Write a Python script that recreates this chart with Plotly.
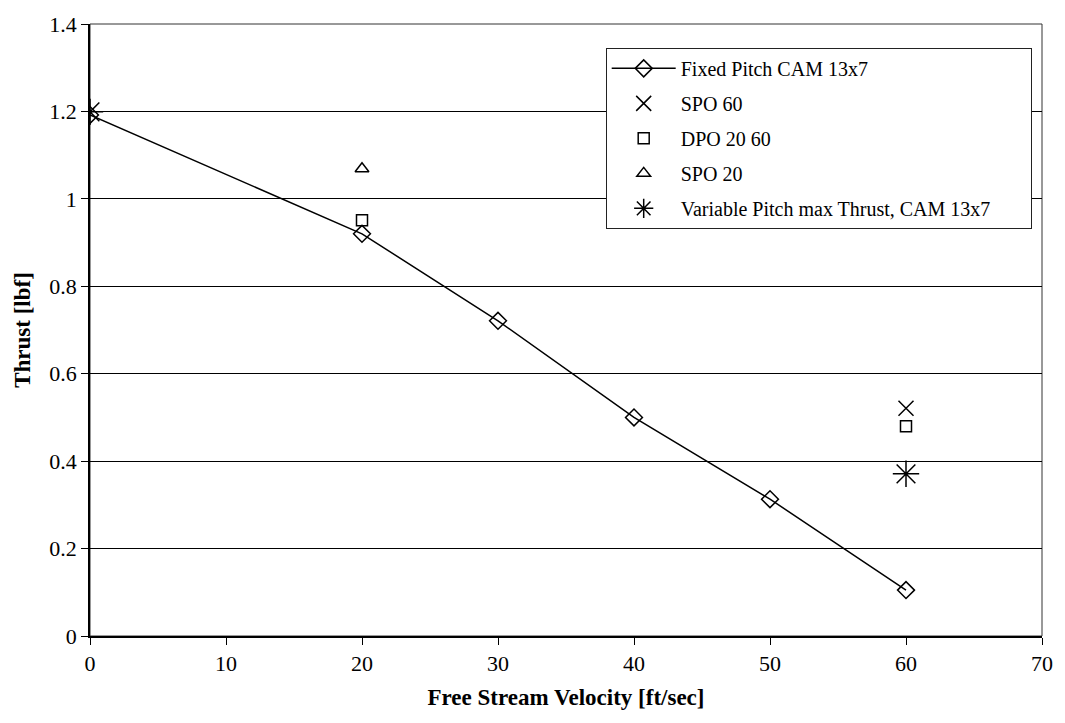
import plotly.graph_objects as go

# Data
fixed_x = [0, 20, 30, 40, 50, 60]
fixed_y = [1.192, 0.92, 0.721, 0.50, 0.313, 0.105]
spo60_x = [60]
spo60_y = [0.521]
dpo_x = [20, 60]
dpo_y = [0.951, 0.48]
spo20_x = [20]
spo20_y = [1.069]
var_x = [0, 60]
var_y = [1.199, 0.371]

x_ticks = [0, 10, 20, 30, 40, 50, 60, 70]
y_ticks = [0, 0.2, 0.4, 0.6, 0.8, 1.0, 1.2, 1.4]
y_ticklabels = ["0", "0.2", "0.4", "0.6", "0.8", "1", "1.2", "1.4"]

FONT = "Liberation Serif, Times New Roman, serif"
PAD = "\u00a0" * 7

fig = go.Figure()
fig.add_trace(go.Scatter(x=fixed_x, y=fixed_y, mode="lines+markers", name="Fixed Pitch CAM 13x7",
                         legendgroup="a",
                         line=dict(color="black", width=1.5),
                         marker=dict(symbol="diamond-open", size=13, color="black", line=dict(width=1.5))))
fig.add_trace(go.Scatter(x=spo60_x, y=spo60_y, mode="markers", name="SPO 60", legendgroup="b",
                         marker=dict(symbol="x-thin-open", size=15, color="black", line=dict(width=1.5, color="black"))))
fig.add_trace(go.Scatter(x=dpo_x, y=dpo_y, mode="markers", name="DPO 20 60", legendgroup="c",
                         marker=dict(symbol="square-open", size=11, color="black", line=dict(width=1.5))))
fig.add_trace(go.Scatter(x=spo20_x, y=spo20_y, mode="markers", name="SPO 20", legendgroup="d",
                         marker=dict(symbol="triangle-up-open", size=12, color="black", line=dict(width=1.5))))
fig.add_trace(go.Scatter(x=var_x, y=var_y, mode="markers", name="Variable Pitch max Thrust, CAM 13x7" + PAD,
                         legendgroup="e",
                         marker=dict(symbol="asterisk-open", size=22, color="black", line=dict(width=1.5, color="black"))))

fig.update_layout(
    width=1065, height=723,
    margin=dict(l=90, r=15, t=21, b=87),
    paper_bgcolor="white", plot_bgcolor="white",
    font=dict(family=FONT, color="black", size=22),
    showlegend=True,
    legend=dict(
        x=0.5417, y=0.961, xanchor="left", yanchor="top",
        bgcolor="white", bordercolor="#222", borderwidth=1,
        font=dict(family=FONT, size=20, color="black"),
        tracegroupgap=6, itemwidth=64,
    ),
    xaxis=dict(
        range=[0, 70], tickvals=x_ticks, ticktext=[str(v) for v in x_ticks],
        showgrid=False, zeroline=False,
        showline=True, linecolor="black", linewidth=1.5,
        ticks="outside", ticklen=7, tickcolor="black", tickwidth=1,
        tickfont=dict(size=22),
        title=dict(text="<b>Free Stream Velocity [ft/sec]</b>", font=dict(size=23), standoff=14),
    ),
    yaxis=dict(
        range=[0, 1.4], tickvals=y_ticks, ticktext=y_ticklabels,
        showgrid=True, gridcolor="black", gridwidth=1, zeroline=False,
        showline=True, linecolor="black", linewidth=1.5,
        ticks="outside", ticklen=7, tickcolor="black", tickwidth=1,
        tickfont=dict(size=22),
        title=dict(text="<b>Thrust [lbf]</b>", font=dict(size=23), standoff=12),
    ),
)
# thin frame on top and right
fig.add_shape(type="rect", xref="paper", yref="paper", x0=0, y0=0, x1=1, y1=1,
              line=dict(color="#333", width=1), layer="below")

fig.write_html("out.html")
